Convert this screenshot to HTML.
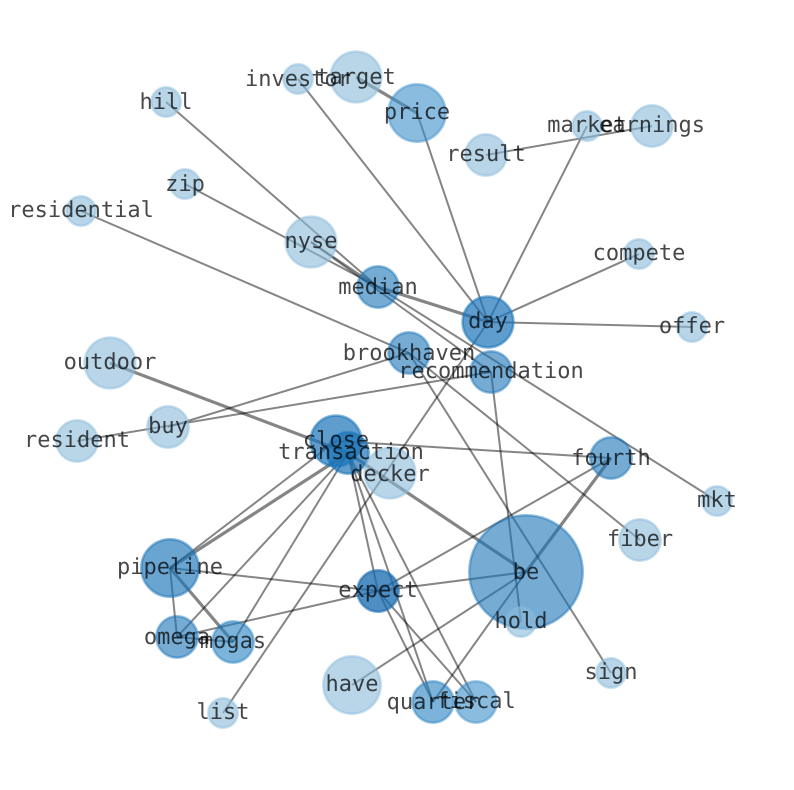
<!DOCTYPE html>
<html><head><meta charset="utf-8"><style>
html,body{margin:0;padding:0;background:#fff}
svg{display:block}
text{font-family:"DejaVu Sans Mono",monospace;font-size:22px;fill:#000;fill-opacity:.72;text-anchor:middle;text-rendering:geometricPrecision}
line{stroke:#000;stroke-opacity:.48;stroke-width:2}
line.t{stroke-width:3.2}
circle{stroke-width:2.6;fill-opacity:.6;stroke-opacity:.45}
.a3{fill:#8abbdb;stroke:#8abbdb}
.a45{fill:#4c96cc;stroke:#4c96cc}
.a5{fill:#3c8fca;stroke:#3c8fca}
.a55{fill:#2580c1;stroke:#2580c1}
.a6{fill:#1a74b8;stroke:#1a74b8}
.a65{fill:#1a74b8;stroke:#1a74b8;fill-opacity:.65;stroke-opacity:.5}
.a7{fill:#1a74b8;stroke:#1a74b8;fill-opacity:.7;stroke-opacity:.55}
.a75{fill:#1a6cb0;stroke:#1a6cb0;fill-opacity:.77;stroke-opacity:.6}
</style></head><body>
<svg width="794" height="790" viewBox="0 0 794 790" xmlns="http://www.w3.org/2000/svg">
<g>
<line class="t" x1="417" y1="113" x2="356" y2="77"/>
<line x1="417" y1="113" x2="488" y2="322"/>
<line x1="298" y1="79" x2="488" y2="322"/>
<line x1="166" y1="102" x2="378" y2="287"/>
<line x1="185" y1="184" x2="378" y2="287"/>
<line x1="311" y1="242" x2="378" y2="287"/>
<line x1="311" y1="242" x2="491" y2="372"/>
<line class="t" x1="378" y1="287" x2="488" y2="322"/>
<line x1="378" y1="287" x2="717" y2="501"/>
<line x1="81" y1="211" x2="409" y2="353"/>
<line x1="168" y1="427" x2="409" y2="353"/>
<line x1="409" y1="353" x2="611" y2="673"/>
<line x1="409" y1="353" x2="640" y2="540"/>
<line x1="77" y1="441" x2="491" y2="372"/>
<line x1="491" y1="372" x2="521" y2="622"/>
<line x1="488" y1="322" x2="587" y2="126"/>
<line x1="488" y1="322" x2="639" y2="254"/>
<line x1="488" y1="322" x2="692" y2="327"/>
<line x1="488" y1="322" x2="223" y2="713"/>
<line x1="486" y1="155" x2="652" y2="126"/>
<line class="t" x1="110" y1="363" x2="348" y2="453"/>
<line x1="336" y1="441" x2="611" y2="458"/>
<line class="t" x1="348" y1="453" x2="526" y2="572"/>
<line class="t" x1="611" y1="458" x2="526" y2="572"/>
<line x1="611" y1="458" x2="378" y2="591"/>
<line x1="526" y1="572" x2="433" y2="702"/>
<line x1="526" y1="572" x2="378" y2="591"/>
<line x1="526" y1="572" x2="352" y2="685"/>
<line x1="170" y1="568" x2="336" y2="441"/>
<line class="t" x1="170" y1="568" x2="348" y2="453"/>
<line x1="170" y1="568" x2="378" y2="591"/>
<line x1="170" y1="568" x2="177" y2="637"/>
<line class="t" x1="170" y1="568" x2="233" y2="642"/>
<line x1="177" y1="637" x2="348" y2="453"/>
<line x1="177" y1="637" x2="233" y2="642"/>
<line x1="177" y1="637" x2="378" y2="591"/>
<line x1="233" y1="642" x2="348" y2="453"/>
<line x1="348" y1="453" x2="378" y2="591"/>
<line x1="348" y1="453" x2="433" y2="702"/>
<line x1="378" y1="591" x2="433" y2="702"/>
<line x1="348" y1="453" x2="476" y2="702"/>
<line x1="378" y1="591" x2="476" y2="702"/>
</g>
<g>
<circle class="a3" cx="356" cy="77" r="25.4"/>
<circle class="a5" cx="417" cy="113" r="28.7"/>
<circle class="a3" cx="298" cy="79" r="14.7"/>
<circle class="a3" cx="166" cy="102" r="14.7"/>
<circle class="a3" cx="587" cy="126" r="14.7"/>
<circle class="a3" cx="652" cy="126" r="20.7"/>
<circle class="a3" cx="486" cy="155" r="20.7"/>
<circle class="a3" cx="185" cy="184" r="14.7"/>
<circle class="a3" cx="81" cy="211" r="14.7"/>
<circle class="a3" cx="311" cy="242" r="25.4"/>
<circle class="a3" cx="639" cy="254" r="14.7"/>
<circle class="a6" cx="378" cy="287" r="20.7"/>
<circle class="a7" cx="488" cy="322" r="25.4"/>
<circle class="a3" cx="692" cy="327" r="14.7"/>
<circle class="a6" cx="409" cy="353" r="20.7"/>
<circle class="a6" cx="491" cy="372" r="20.7"/>
<circle class="a3" cx="110" cy="363" r="25.4"/>
<circle class="a3" cx="168" cy="427" r="20.7"/>
<circle class="a3" cx="77" cy="441" r="20.7"/>
<circle class="a7" cx="336" cy="441" r="25.4"/>
<circle class="a7" cx="348" cy="453" r="20.7"/>
<circle class="a3" cx="390" cy="473" r="25.4"/>
<circle class="a6" cx="611" cy="458" r="20.7"/>
<circle class="a3" cx="717" cy="501" r="14.7"/>
<circle class="a3" cx="640" cy="540" r="20.7"/>
<circle class="a6" cx="526" cy="572" r="56.7"/>
<circle class="a65" cx="170" cy="568" r="28.7"/>
<circle class="a75" cx="378" cy="591" r="20.7"/>
<circle class="a3" cx="521" cy="622" r="14.7"/>
<circle class="a6" cx="177" cy="637" r="20.7"/>
<circle class="a55" cx="233" cy="642" r="20.7"/>
<circle class="a3" cx="611" cy="673" r="14.7"/>
<circle class="a3" cx="352" cy="685" r="28.7"/>
<circle class="a55" cx="433" cy="702" r="20.7"/>
<circle class="a5" cx="476" cy="702" r="20.7"/>
<circle class="a3" cx="223" cy="713" r="14.7"/>
</g>
<g>
<text x="356" y="84">target</text>
<text x="417" y="119">price</text>
<text x="298" y="86">investor</text>
<text x="166" y="109">hill</text>
<text x="587" y="132">market</text>
<text x="652" y="132">earnings</text>
<text x="486" y="161">result</text>
<text x="185" y="191">zip</text>
<text x="81" y="217">residential</text>
<text x="311" y="248">nyse</text>
<text x="639" y="260">compete</text>
<text x="378" y="294">median</text>
<text x="488" y="328">day</text>
<text x="692" y="333">offer</text>
<text x="409" y="360">brookhaven</text>
<text x="491" y="378">recommendation</text>
<text x="110" y="369">outdoor</text>
<text x="168" y="433">buy</text>
<text x="77" y="447">resident</text>
<text x="336" y="447">close</text>
<text x="351" y="459">transaction</text>
<text x="390" y="481">decker</text>
<text x="611" y="465">fourth</text>
<text x="717" y="507">mkt</text>
<text x="640" y="546">fiber</text>
<text x="526" y="579">be</text>
<text x="170" y="574">pipeline</text>
<text x="378" y="597">expect</text>
<text x="521" y="628">hold</text>
<text x="177" y="644">omega</text>
<text x="233" y="648">mogas</text>
<text x="611" y="679">sign</text>
<text x="352" y="691">have</text>
<text x="433" y="709">quarter</text>
<text x="476" y="708">fiscal</text>
<text x="223" y="719">list</text>
</g>
</svg>
</body></html>
